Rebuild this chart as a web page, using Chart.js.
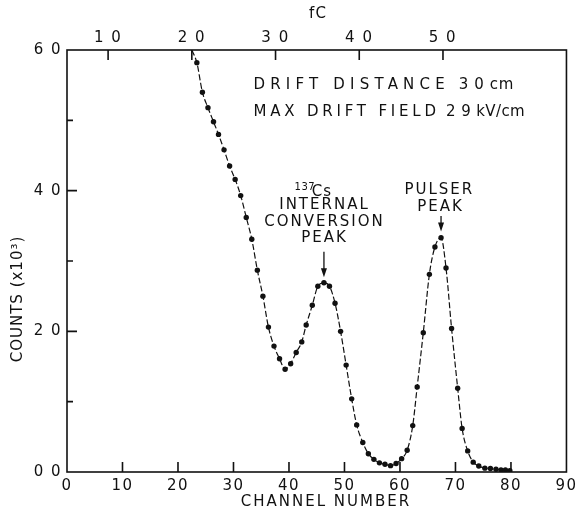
<!DOCTYPE html>
<html>
<head>
<meta charset="utf-8">
<script src="https://cdn.jsdelivr.net/npm/chart.js@4.4.1/dist/chart.umd.min.js"></script>
<style>
html, body { margin: 0; padding: 0; background: #fff; }
canvas { display: block; }
</style>
</head>
<body>
<canvas id="spectrum" width="581" height="514"></canvas>
<script>
// Pulse height spectrum.
// channel of each dot, and counts in units of 10^3 (first entry is where the curve leaves the frame)
const channels = [22.5, 23.4, 24.4, 25.4, 26.4, 27.3, 28.3, 29.3, 30.3, 31.3, 32.3,
    33.3, 34.3, 35.3, 36.3, 37.3, 38.3, 39.3, 40.3, 41.3, 42.3,
    43.1, 44.2, 45.2, 46.3, 47.3, 48.3, 49.3, 50.3, 51.3, 52.2,
    53.3, 54.3, 55.3, 56.3, 57.3, 58.3, 59.3, 60.3, 61.3, 62.3,
    63.1, 64.2, 65.3, 66.3, 67.4, 68.3, 69.3, 70.4, 71.2, 72.2,
    73.2, 74.2, 75.3, 76.3, 77.3, 78.2, 79.0, 79.8];
const counts = [60.0, 58.2, 54.0, 51.8, 49.8, 48.0, 45.8, 43.5, 41.6, 39.3, 36.2,
    33.1, 28.7, 25.0, 20.6, 17.9, 16.1, 14.6, 15.4, 17.0, 18.5,
    20.9, 23.7, 26.4, 26.9, 26.4, 24.0, 20.0, 15.2, 10.4, 6.7,
    4.2, 2.6, 1.8, 1.3, 1.1, 0.9, 1.2, 1.9, 3.1, 6.6,
    12.1, 19.8, 28.1, 32.0, 33.3, 29.0, 20.4, 11.9, 6.2, 3.0,
    1.4, 0.85, 0.55, 0.5, 0.4, 0.3, 0.3, 0.2];

// axis ticks and their printed labels
const channelTicks = [0, 10, 20, 30, 40, 50, 60, 70, 80, 90];
const channelTickLabels = ['0', '10', '20', '30', '40', '50', '60', '70', '80', '90'];
const countTicks = [0, 10, 20, 30, 40, 50, 60];
const countTickLabels = ['0 0', '', '2 0', '', '4 0', '', '6 0'];
const fcTicks = [10, 20, 30, 40, 50];
const fcTickLabels = ['1 0', '2 0', '3 0', '4 0', '5 0'];

const INK = '#111';
const FONT = 'DejaVu Sans';

Chart.defaults.font.family = FONT;
Chart.defaults.font.size = 15;
Chart.defaults.color = INK;

function drawText(ctx, str, px, py, size, align, spacing) {
    ctx.font = size + 'px "' + FONT + '"';
    ctx.letterSpacing = spacing + 'px';
    ctx.textAlign = align;
    ctx.textBaseline = 'middle';
    ctx.fillText(str, px, py);
}

function drawArrow(ctx, px, y0, y1) {
    ctx.beginPath();
    ctx.moveTo(px, y0);
    ctx.lineTo(px, y1 - 6);
    ctx.stroke();
    ctx.beginPath();
    ctx.moveTo(px - 3, y1 - 9);
    ctx.lineTo(px + 3, y1 - 9);
    ctx.lineTo(px, y1);
    ctx.closePath();
    ctx.fill();
}

const notesPlugin = {
    id: 'notes',
    beforeDraw(chart) {
        chart.ctx.letterSpacing = '1.5px';
    },
    afterDraw(chart) {
        const { ctx, chartArea: a, scales } = chart;
        const x = scales.x, y = scales.y, fc = scales.fc;
        const px = v => x.getPixelForValue(v);
        const py = v => y.getPixelForValue(v);

        ctx.save();
        ctx.strokeStyle = INK;
        ctx.fillStyle = INK;
        ctx.lineWidth = 1.6;
        ctx.strokeRect(a.left, a.top, a.right - a.left, a.bottom - a.top);

        // inward tick marks
        ctx.beginPath();
        channelTicks.forEach(v => {
            if (v > 0 && v < 90) {
                ctx.moveTo(px(v), a.bottom);
                ctx.lineTo(px(v), a.bottom - 10);
            }
        });
        fcTicks.forEach(v => {
            const p = fc.getPixelForValue(v);
            ctx.moveTo(p, a.top);
            ctx.lineTo(p, a.top + 10);
        });
        countTicks.forEach(v => {
            if (v > 0 && v < 60) {
                const len = v % 20 === 0 ? 10 : 6;
                ctx.moveTo(a.left, py(v));
                ctx.lineTo(a.left + len, py(v));
            }
        });
        ctx.stroke();

        // axis titles
        drawText(ctx, 'CHANNEL NUMBER', 326, 502, 15, 'center', 2);
        drawText(ctx, 'fC', 318, 14, 15, 'center', 1);
        ctx.save();
        ctx.translate(18, 299);
        ctx.rotate(-Math.PI / 2);
        drawText(ctx, 'COUNTS (x10³)', 0, 0, 15, 'center', 1);
        ctx.restore();

        // run conditions
        drawText(ctx, 'DRIFT DISTANCE', px(33.6), py(55.0), 15, 'left', 5.2);
        drawText(ctx, '3 0 cm', px(70.6), py(55.0), 15, 'left', 0.6);
        drawText(ctx, 'MAX DRIFT FIELD', px(33.6), py(51.1), 15, 'left', 3.8);
        drawText(ctx, '2 9 kV/cm', px(68.3), py(51.1), 15, 'left', 0.4);

        // 137Cs peak label
        drawText(ctx, '137', px(41.0), py(40.5), 10, 'left', 0.5);
        drawText(ctx, 'Cs', px(44.1), py(39.8), 15, 'left', 1);
        drawText(ctx, 'INTERNAL', px(46.4), py(38.0), 15, 'center', 2);
        drawText(ctx, 'CONVERSION', px(46.4), py(35.6), 15, 'center', 2);
        drawText(ctx, 'PEAK', px(46.4), py(33.3), 15, 'center', 2);
        ctx.lineWidth = 1.3;
        drawArrow(ctx, px(46.3), py(31.3), py(27.7));

        // pulser peak label
        drawText(ctx, 'PULSER', px(67.1), py(40.1), 15, 'center', 2);
        drawText(ctx, 'PEAK', px(67.3), py(37.7), 15, 'center', 2);
        drawArrow(ctx, px(67.4), py(36.4), py(34.2));
        ctx.restore();
    }
};

const points = channels.map((c, i) => ({ x: c, y: counts[i] }));

new Chart(document.getElementById('spectrum'), {
    type: 'scatter',
    data: {
        datasets: [{
            data: points,
            showLine: true,
            borderColor: INK,
            borderWidth: 1.2,
            borderDash: [6, 2.5],
            cubicInterpolationMode: 'monotone',
            backgroundColor: INK,
            pointBackgroundColor: INK,
            pointBorderWidth: 0,
            pointRadius: ctx => ctx.dataIndex === 0 ? 0 : 2.7
        }]
    },
    options: {
        responsive: false,
        animation: false,
        events: [],
        layout: { padding: { left: 0, right: 9, top: 0, bottom: 0 } },
        plugins: {
            legend: { display: false },
            tooltip: { enabled: false }
        },
        scales: {
            x: {
                type: 'linear',
                position: 'bottom',
                min: 0,
                max: 90,
                afterBuildTicks: s => { s.ticks = channelTicks.map(v => ({ value: v })); },
                afterFit: s => { s.height = 42; },
                ticks: {
                    padding: 5,
                    maxRotation: 0,
                    autoSkip: false,
                    callback: v => channelTickLabels[channelTicks.indexOf(v)]
                },
                grid: { display: false, drawTicks: false },
                border: { display: false }
            },
            fc: {
                type: 'linear',
                position: 'top',
                axis: 'x',
                min: 5.09,
                max: 64.75,
                afterBuildTicks: s => { s.ticks = fcTicks.map(v => ({ value: v })); },
                afterFit: s => { s.height = 50; },
                ticks: {
                    padding: 3,
                    maxRotation: 0,
                    autoSkip: false,
                    callback: v => fcTickLabels[fcTicks.indexOf(v)]
                },
                grid: { display: false, drawTicks: false },
                border: { display: false }
            },
            y: {
                type: 'linear',
                position: 'left',
                min: 0,
                max: 60,
                afterBuildTicks: s => { s.ticks = countTicks.map(v => ({ value: v })); },
                afterFit: s => { s.width = 67; },
                ticks: {
                    padding: 5,
                    autoSkip: false,
                    callback: v => countTickLabels[countTicks.indexOf(v)]
                },
                grid: { display: false, drawTicks: false },
                border: { display: false }
            }
        }
    },
    plugins: [notesPlugin]
});
</script>
</body>
</html>
